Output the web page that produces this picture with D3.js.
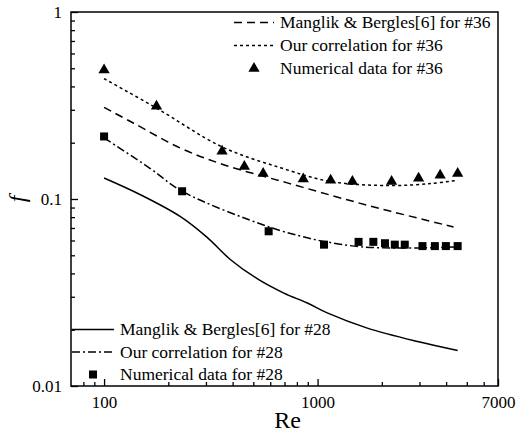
<!DOCTYPE html>
<html>
<head>
<meta charset="utf-8">
<script src="https://cdn.jsdelivr.net/npm/d3@7"></script>
<style>
  body { margin: 0; background: #fff; }
  svg text { font-family: "Liberation Serif", "Times New Roman", Times, "DejaVu Serif", serif !important; fill: #000; }
</style>
</head>
<body>
<div id="chart"></div>
<script>
var W = 524, H = 438
    margin = { top: 12, right: 26, bottom: 52, left: 71 }
    w = W - margin.left - margin.right
    h = H - margin.top - margin.bottom
    serif = "'Liberation Serif', 'Times New Roman', Times, 'DejaVu Serif', serif"

// data
var reNum36 = [100, 176, 357, 454, 556, 857, 1151, 1456, 2222, 2973, 3751, 4530]
    fNum36  = [0.49, 0.313, 0.18, 0.149, 0.137, 0.128, 0.126, 0.124, 0.124, 0.129, 0.134, 0.137]
    reNum28 = [100, 232, 590, 1072, 1556, 1825, 2069, 2300, 2561, 3100, 3543, 3990, 4530]
    fNum28  = [0.216, 0.11, 0.0672, 0.057, 0.059, 0.059, 0.058, 0.057, 0.057, 0.056, 0.056, 0.056, 0.056]

var reMB36 = [100, 137, 227, 363, 721, 1377, 2203, 4335]
    fMB36  = [0.309, 0.255, 0.1875, 0.1526, 0.122, 0.099, 0.0859, 0.0709]
var reOur36 = [100, 177, 357, 670, 1151, 2200, 3400, 4530]
    fOur36  = [0.44, 0.305, 0.19, 0.147, 0.124, 0.118, 0.121, 0.126]
var reOur28 = [100, 164, 232, 590, 895, 1100, 1600, 2900, 4530]
    fOur28  = [0.212, 0.146, 0.11, 0.071, 0.062, 0.059, 0.0555, 0.0547, 0.0555]
var reMB28 = [100, 148, 227, 303, 390, 521, 695, 895, 1110, 1710, 2938, 4530]
    fMB28  = [0.1295, 0.1054, 0.0807, 0.0625, 0.0475, 0.0375, 0.0314, 0.0278, 0.0246, 0.0204, 0.0173, 0.0155]

var xMajor = [100, 1000, 7000]
    xMinor = [80, 90, 200, 300, 400, 500, 600, 700, 800, 900, 2000, 3000, 4000, 5000, 6000]
    yMajor = [0.01, 0.1, 1]
    yMinor = [0.02, 0.03, 0.04, 0.05, 0.06, 0.07, 0.08, 0.09, 0.2, 0.3, 0.4, 0.5, 0.6, 0.7, 0.8, 0.9]

var svg = d3.select("#chart").append("svg")
    .attr("width", W)
    .attr("height", H)
    .attr("font-family", serif)
  .append("g")
    .attr("transform", "translate(" + margin.left + "," + margin.top + ")")

var x = d3.scaleLog().domain([70, 7000]).range([0, w])
var y = d3.scaleLog().domain([0.01, 1]).range([h, 0])

// axes, ticks inward
function styleAxis(g) {
    g.attr("font-family", serif)
    g.select(".domain").remove()
    g.selectAll("line").attr("stroke", "#000").attr("stroke-width", 1.3)
    g.selectAll("text").style("font-size", "17px")
}

svg.append("g")
    .attr("transform", "translate(0," + h + ")")
    .call(d3.axisBottom(x).tickValues(xMinor).tickSize(-4).tickFormat(""))
    .call(styleAxis)
svg.append("g")
    .attr("transform", "translate(0," + h + ")")
    .call(d3.axisBottom(x).tickValues(xMajor).tickSize(-7).tickPadding(10).tickFormat(d3.format("d")))
    .call(styleAxis)
svg.append("g")
    .call(d3.axisLeft(y).tickValues(yMinor).tickSize(-4).tickFormat(""))
    .call(styleAxis)
svg.append("g")
    .call(d3.axisLeft(y).tickValues(yMajor).tickSize(-7).tickPadding(9).tickFormat(function(d){ return d3.format("")(d) }))
    .call(styleAxis)

// frame
svg.append("rect")
    .attr("x", 0).attr("y", 0)
    .attr("width", w).attr("height", h)
    .attr("fill", "none")
    .attr("stroke", "#000")
    .attr("stroke-width", 1.5)

// axis titles
svg.append("text")
    .attr("x", x(1000) - 30)
    .attr("y", h + 42)
    .attr("text-anchor", "middle")
    .style("font-size", "24px")
    .text("Re")
svg.append("text")
    .attr("transform", "translate(" + (-46) + "," + y(0.1) + ") rotate(-90)")
    .attr("text-anchor", "middle")
    .style("font-size", "24px")
    .style("font-style", "italic")
    .text("f")

// curves
var line = d3.line()
    .x(function(d){ return x(d[0]) })
    .y(function(d){ return y(d[1]) })
    .curve(d3.curveCatmullRom.alpha(0.5))

var curves = [
    { re: reMB36, f: fMB36, dash: "8,5" },
    { re: reOur36, f: fOur36, dash: "3,3" },
    { re: reMB28, f: fMB28, dash: null },
    { re: reOur28, f: fOur28, dash: "8,3,2,3" }
]
curves.forEach(function(c) {
    svg.append("path")
        .datum(d3.zip(c.re, c.f))
        .attr("d", line)
        .attr("fill", "none")
        .attr("stroke", "#000")
        .attr("stroke-width", 1.5)
        .attr("stroke-dasharray", c.dash)
})

// markers
svg.selectAll(".tri")
    .data(d3.zip(reNum36, fNum36))
    .enter()
    .append("path")
        .attr("class", "tri")
        .attr("d", d3.symbol(d3.symbolTriangle, 55))
        .attr("transform", function(d){ return "translate(" + x(d[0]) + "," + y(d[1]) + ")" })
        .attr("fill", "#000")
svg.selectAll(".sq")
    .data(d3.zip(reNum28, fNum28))
    .enter()
    .append("rect")
        .attr("class", "sq")
        .attr("x", function(d){ return x(d[0]) - 4 })
        .attr("y", function(d){ return y(d[1]) - 4 })
        .attr("width", 8)
        .attr("height", 8)
        .attr("fill", "#000")

// legends
var legTop = [
    { label: "Manglik & Bergles[6] for #36", dash: "8,5", mark: null },
    { label: "Our correlation for #36", dash: "3,3", mark: null },
    { label: "Numerical data for #36", dash: null, mark: "tri" }
]
var legBot = [
    { label: "Manglik & Bergles[6] for #28", dash: "", mark: null },
    { label: "Our correlation for #28", dash: "8,3,2,3", mark: null },
    { label: "Numerical data for #28", dash: null, mark: "sq" }
]

function legend(items, lx, ly, step, len) {
    items.forEach(function(d, i) {
        var yy = ly + i * step
        if (d.mark === null) {
            svg.append("line")
                .attr("x1", lx).attr("x2", lx + len)
                .attr("y1", yy).attr("y2", yy)
                .attr("stroke", "#000")
                .attr("stroke-width", 1.5)
                .attr("stroke-dasharray", d.dash || null)
        } else if (d.mark === "tri") {
            svg.append("path")
                .attr("d", d3.symbol(d3.symbolTriangle, 55))
                .attr("transform", "translate(" + (lx + len / 2) + "," + yy + ")")
                .attr("fill", "#000")
        } else {
            svg.append("rect")
                .attr("x", lx + len / 2 - 4).attr("y", yy - 4)
                .attr("width", 8).attr("height", 8)
                .attr("fill", "#000")
        }
        svg.append("text")
            .attr("x", lx + len + 6)
            .attr("y", yy)
            .attr("dy", "0.32em")
            .style("font-size", "17.5px")
            .text(d.label)
    })
}
legend(legTop, 234 - margin.left, 22.5 - margin.top, 23, 40)
legend(legBot, 72 - margin.left, 329.5 - margin.top, 22.5, 42)
</script>
</body>
</html>
